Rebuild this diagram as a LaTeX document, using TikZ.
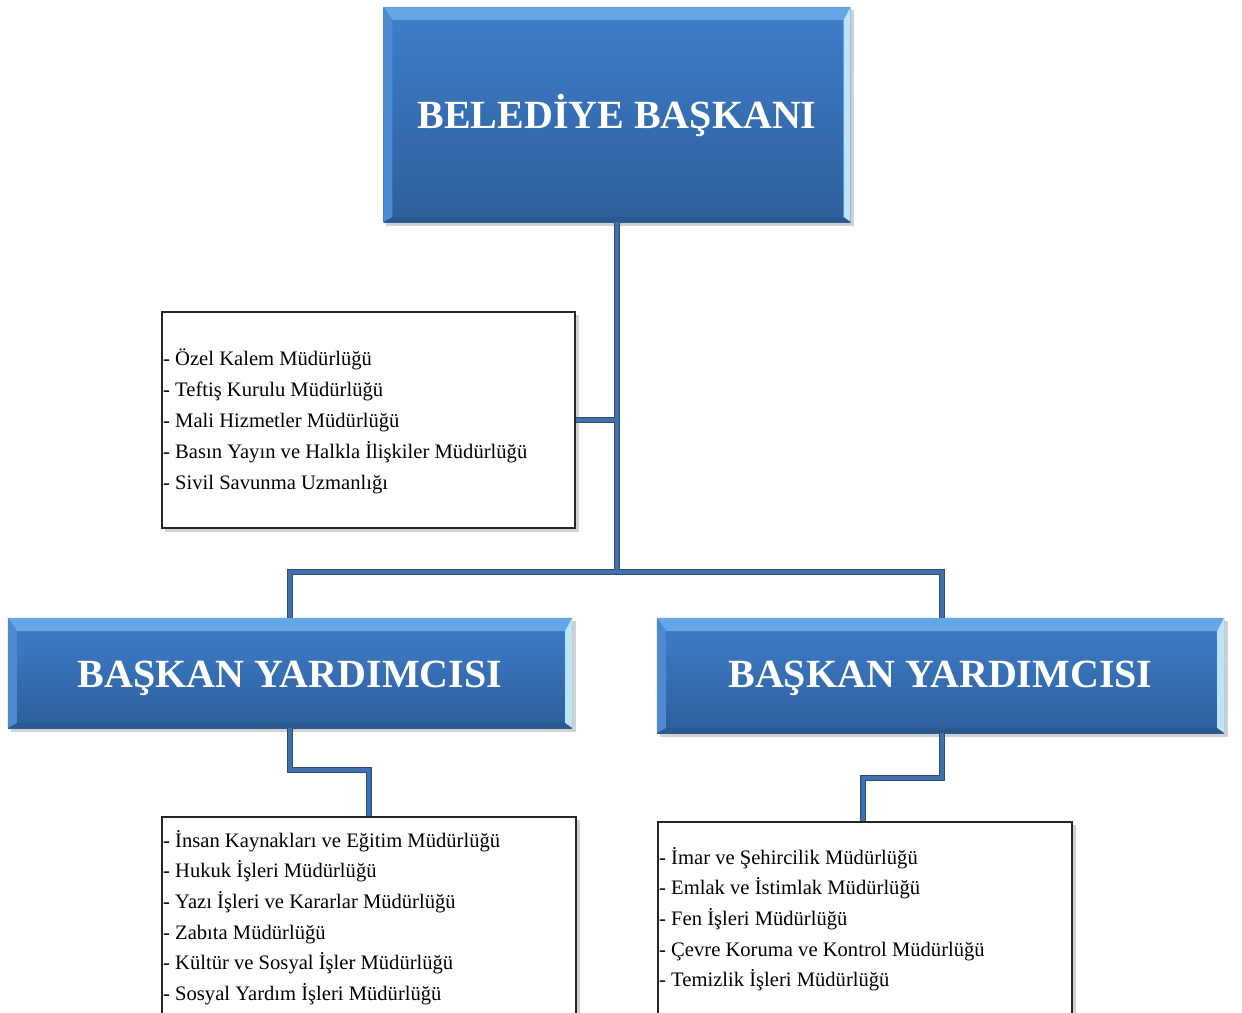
\documentclass[tikz,border=0pt]{standalone}
\usepackage{fontspec}
\setmainfont{Liberation Serif}
\definecolor{bluetop}{RGB}{63,127,204}
\definecolor{bluebot}{RGB}{46,94,155}
\definecolor{bevtop}{RGB}{100,166,230}
\definecolor{bevright}{RGB}{188,228,250}
\definecolor{bevleft}{RGB}{78,138,210}
\definecolor{bevbot}{RGB}{44,88,144}
\definecolor{connlight}{RGB}{66,112,172}
\definecolor{conndark}{RGB}{44,76,120}
\tikzset{
  bluebox/.style={inner sep=0pt, top color=bluetop, bottom color=bluebot, draw=none},
  titletext/.style={text=white, font=\fontsize{40}{48}\selectfont\bfseries},
  listbox/.style={draw=black!85, line width=2pt, fill=white, inner sep=0pt},
  listtext/.style={inner sep=0pt, align=left, font=\fontsize{20.6}{31}\selectfont, anchor=north west},
  shadowbox/.style={fill=black!18, draw=none},
  connout/.style={draw=conndark, line width=5.2pt},
  connin/.style={draw=connlight, line width=3.4pt}
}
\newcommand\bevelbox[1]{%
  \fill[bevtop] (#1.north west) -- (#1.north east) -- ([xshift=-7pt,yshift=-13pt]#1.north east) -- ([xshift=9pt,yshift=-13pt]#1.north west) -- cycle;
  \fill[bevleft] (#1.north west) -- ([xshift=9pt,yshift=-13pt]#1.north west) -- ([xshift=9pt,yshift=5pt]#1.south west) -- (#1.south west) -- cycle;
  \fill[bevright] (#1.north east) -- ([xshift=-7pt,yshift=-13pt]#1.north east) -- ([xshift=-7pt,yshift=5pt]#1.south east) -- (#1.south east) -- cycle;
  \fill[bevbot] (#1.south west) -- ([xshift=9pt,yshift=5pt]#1.south west) -- ([xshift=-7pt,yshift=5pt]#1.south east) -- (#1.south east) -- cycle;
}
\newcommand\connpaths[1]{%
  \draw[#1] (top.south) -- (top.south |- busM);
  \draw[#1] (list1.east) -- (list1.east -| top.south);
  \draw[#1] (vpl.north) -- (busL) -- (busR) -- (vpr.north -| busR);
  \draw[#1] (vpl.south) -- (eL) -| (list2.north);
  \draw[#1] (vpr.south -| eR) -- (eR) -| ([xshift=-2pt]list3.north);
}
\begin{document}
\begin{tikzpicture}[x=1pt,y=-1pt]
\clip (0,0) rectangle (1242,1012);
\fill[white] (0,0) rectangle (1242,1012);

% shadows
\fill[shadowbox] (386,10) rectangle (854,226);
\fill[shadowbox] (11,621) rectangle (576,732);
\fill[shadowbox] (660,621) rectangle (1228,737);
\fill[shadowbox] (165,315) rectangle (579,532);
\fill[shadowbox] (165,820) rectangle (580,1040);
\fill[shadowbox] (661,825) rectangle (1076,1040);

% blue boxes
\node[bluebox, minimum width=467pt, minimum height=215pt] (top) at (617,114.5) {};
\bevelbox{top}
\node[titletext] (toptext) at ([yshift=-1pt]top.center) {BELEDİYE BAŞKANI};

\node[bluebox, minimum width=564pt, minimum height=110pt] (vpl) at (290,673) {};
\bevelbox{vpl}
\node[titletext] (vpltext) at ([yshift=-5pt]vpl.center) {BAŞKAN YARDIMCISI};

\node[bluebox, minimum width=567pt, minimum height=115pt] (vpr) at (940.5,675.5) {};
\bevelbox{vpr}
\node[titletext] (vprtext) at ([yshift=-3pt]vpr.center) {BAŞKAN YARDIMCISI};

% list boxes
\node[listbox, minimum width=413pt, minimum height=216pt] (list1) at (368.5,420) {};
\node[listbox, minimum width=414pt, minimum height=225pt] (list2) at (369,929.5) {};
\node[listbox, minimum width=414pt, minimum height=220pt] (list3) at (865,932) {};

\node[listtext] (t1) at (163,349) {- Özel Kalem Müdürlüğü\\- Teftiş Kurulu Müdürlüğü\\- Mali Hizmetler Müdürlüğü\\- Basın Yayın ve Halkla İlişkiler Müdürlüğü\\- Sivil Savunma Uzmanlığı};
\node[listtext, font=\fontsize{20.6}{30.6}\selectfont] (t2) at (163,830) {- İnsan Kaynakları ve Eğitim Müdürlüğü\\- Hukuk İşleri Müdürlüğü\\- Yazı İşleri ve Kararlar Müdürlüğü\\- Zabıta Müdürlüğü\\- Kültür ve Sosyal İşler Müdürlüğü\\- Sosyal Yardım İşleri Müdürlüğü};
\node[listtext, font=\fontsize{20.6}{30.6}\selectfont] (t3) at (659,847) {- İmar ve Şehircilik Müdürlüğü\\- Emlak ve İstimlak Müdürlüğü\\- Fen İşleri Müdürlüğü\\- Çevre Koruma ve Kontrol Müdürlüğü\\- Temizlik İşleri Müdürlüğü};

% connectors
\coordinate (busM) at (617,572);
\coordinate (busL) at (290,572);
\coordinate (busR) at (942,572);
\coordinate (eL) at (290,770);
\coordinate (eR) at (942,778);
\connpaths{connout}
\connpaths{connin}
\end{tikzpicture}
\end{document}
